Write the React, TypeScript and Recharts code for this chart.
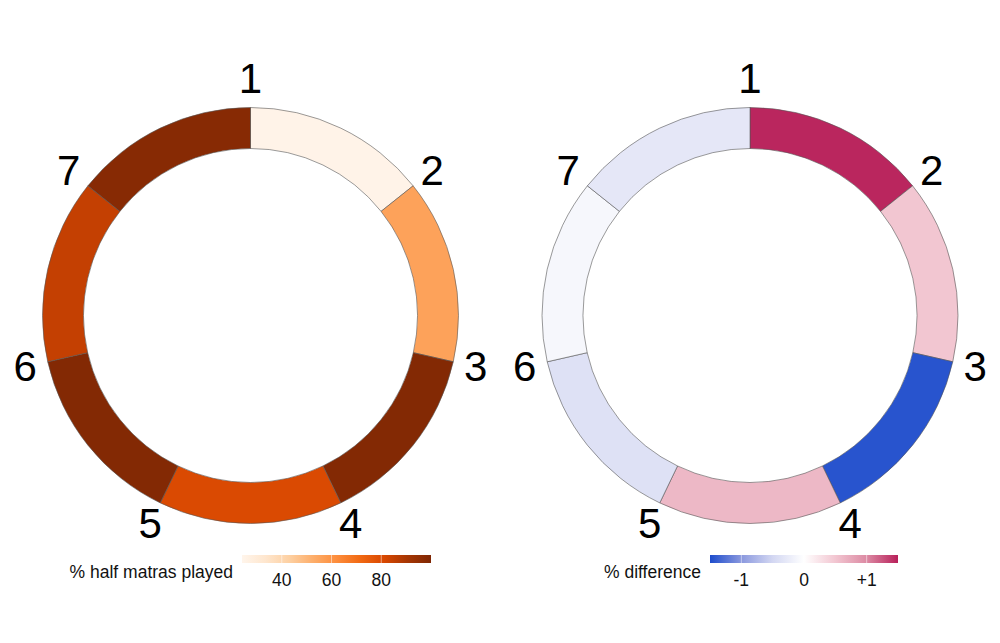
import { PieChart, Pie, Cell } from 'recharts';

// beat positions around the cycle (each slice is one beat, equal size)
const beats = ['1', '2', '3', '4', '5', '6', '7'];
// % half matras played per beat
const playedPct = [25, 56, 99, 80.5, 99, 85, 98];
// % difference per beat
const diffPct = [1.47, 0.5, -1.45, 0.62, -0.38, -0.1, -0.3];

const playedTicks = [40, 60, 80];
const diffTicks = [-1, 0, 1];
const diffTickLabels = ['-1', '0', '+1'];

const playedDomain: [number, number] = [24, 100];
const diffDomain: [number, number] = [-1.5, 1.5];

// colour ramps: [value, colour]
const orangeStops: [number, string][] = [
  [24, '#fff5eb'],
  [33.5, '#fee6ce'],
  [43, '#fdd0a2'],
  [52.5, '#fdae6b'],
  [62, '#fd8d3c'],
  [71.5, '#f16913'],
  [81, '#d94801'],
  [90.5, '#a63603'],
  [100, '#7f2704'],
];
const divergeStops: [number, string][] = [
  [-1.5, '#1d4ccc'],
  [-1, '#8a98de'],
  [-0.5, '#d3d7f2'],
  [0, '#ffffff'],
  [0.5, '#f2c6d1'],
  [1, '#dc8aa3'],
  [1.5, '#b8205a'],
];

const FONT = '"Liberation Sans", Arial, sans-serif';
const RAD = Math.PI / 180;

function hexToRgb(h: string) {
  const n = parseInt(h.slice(1), 16);
  return [(n >> 16) & 255, (n >> 8) & 255, n & 255];
}

function rampColor(stops: [number, string][], v: number) {
  if (v <= stops[0][0]) return stops[0][1];
  for (let i = 1; i < stops.length; i++) {
    if (v <= stops[i][0]) {
      const [v0, c0] = stops[i - 1];
      const [v1, c1] = stops[i];
      const t = (v - v0) / (v1 - v0);
      const a = hexToRgb(c0);
      const b = hexToRgb(c1);
      const rgb = a.map((x, k) => Math.round(x + (b[k] - x) * t));
      return `rgb(${rgb.join(',')})`;
    }
  }
  return stops[stops.length - 1][1];
}

const leftData = beats.map((b, i) => ({ beat: b, weight: 1, value: playedPct[i] }));
const rightData = beats.map((b, i) => ({ beat: b, weight: 1, value: diffPct[i] }));

const CY = 315.5;
const INNER = 167;
const OUTER = 208;

// beat number sits at the start edge of its slice
const renderBeatLabel = (props: any) => {
  const { cx, cy, index } = props;
  const angle = props.startAngle ?? 90 - index * (360 / beats.length);
  const up = Math.max(0, Math.sin(angle * RAD));
  const r = 231 + 6 * up * up * up;
  const x = cx + r * Math.cos(-angle * RAD);
  const y = cy + r * Math.sin(-angle * RAD);
  return (
    <text
      x={x}
      y={y}
      textAnchor="middle"
      dominantBaseline="central"
      fontSize={42}
      fontFamily={FONT}
      fill="#000"
    >
      {beats[index]}
    </text>
  );
};

interface ColorBarProps {
  id: string;
  x: number;
  width: number;
  title: string;
  domain: [number, number];
  stops: [number, string][];
  ticks: number[];
  tickLabels: string[];
}

function ColorBar({ id, x, width, title, domain, stops, ticks, tickLabels }: ColorBarProps) {
  const y = 555;
  const h = 8;
  const pos = (v: number) => x + ((v - domain[0]) / (domain[1] - domain[0])) * width;
  return (
    <g>
      <defs>
        <linearGradient id={id} x1="0" x2="1" y1="0" y2="0">
          {stops.map(([v, c]) => (
            <stop key={v} offset={(v - domain[0]) / (domain[1] - domain[0])} stopColor={c} />
          ))}
        </linearGradient>
      </defs>
      <rect x={x} y={y} width={width} height={h} fill={`url(#${id})`} />
      {ticks.map((t) => (
        <line key={t} x1={pos(t)} x2={pos(t)} y1={y} y2={y + h} stroke="#fff" strokeOpacity={0.5} />
      ))}
      {ticks.map((t, i) => (
        <text
          key={t}
          x={pos(t)}
          y={580}
          textAnchor="middle"
          dominantBaseline="central"
          fontSize={17.5}
          fontFamily={FONT}
          fill="#111"
        >
          {tickLabels[i]}
        </text>
      ))}
      <text
        x={x - 9}
        y={572}
        textAnchor="end"
        dominantBaseline="central"
        fontSize={17.5}
        fontFamily={FONT}
        fill="#111"
      >
        {title}
      </text>
    </g>
  );
}

export default function App() {
  return (
    <div style={{ position: 'absolute', left: 0, top: 0, background: '#fff' }}>
      <PieChart width={1000} height={643} margin={{ top: 0, right: 0, bottom: 0, left: 0 }}>
        <Pie
          data={leftData}
          dataKey="weight"
          nameKey="beat"
          cx={250.5}
          cy={CY}
          innerRadius={INNER}
          outerRadius={OUTER}
          startAngle={90}
          endAngle={-270}
          stroke="#555"
          strokeWidth={0.6}
          label={renderBeatLabel}
          labelLine={false}
          isAnimationActive={false}
        >
          {leftData.map((d) => (
            <Cell key={d.beat} fill={rampColor(orangeStops, d.value)} />
          ))}
        </Pie>
        <Pie
          data={rightData}
          dataKey="weight"
          nameKey="beat"
          cx={750}
          cy={CY}
          innerRadius={INNER}
          outerRadius={OUTER}
          startAngle={90}
          endAngle={-270}
          stroke="#555"
          strokeWidth={0.6}
          label={renderBeatLabel}
          labelLine={false}
          isAnimationActive={false}
        >
          {rightData.map((d) => (
            <Cell key={d.beat} fill={rampColor(divergeStops, d.value)} />
          ))}
        </Pie>
        <ColorBar
          id="playedGrad"
          x={242}
          width={189}
          title="% half matras played"
          domain={playedDomain}
          stops={orangeStops}
          ticks={playedTicks}
          tickLabels={playedTicks.map(String)}
        />
        <ColorBar
          id="diffGrad"
          x={710}
          width={188}
          title="% difference"
          domain={diffDomain}
          stops={divergeStops}
          ticks={diffTicks}
          tickLabels={diffTickLabels}
        />
      </PieChart>
    </div>
  );
}
